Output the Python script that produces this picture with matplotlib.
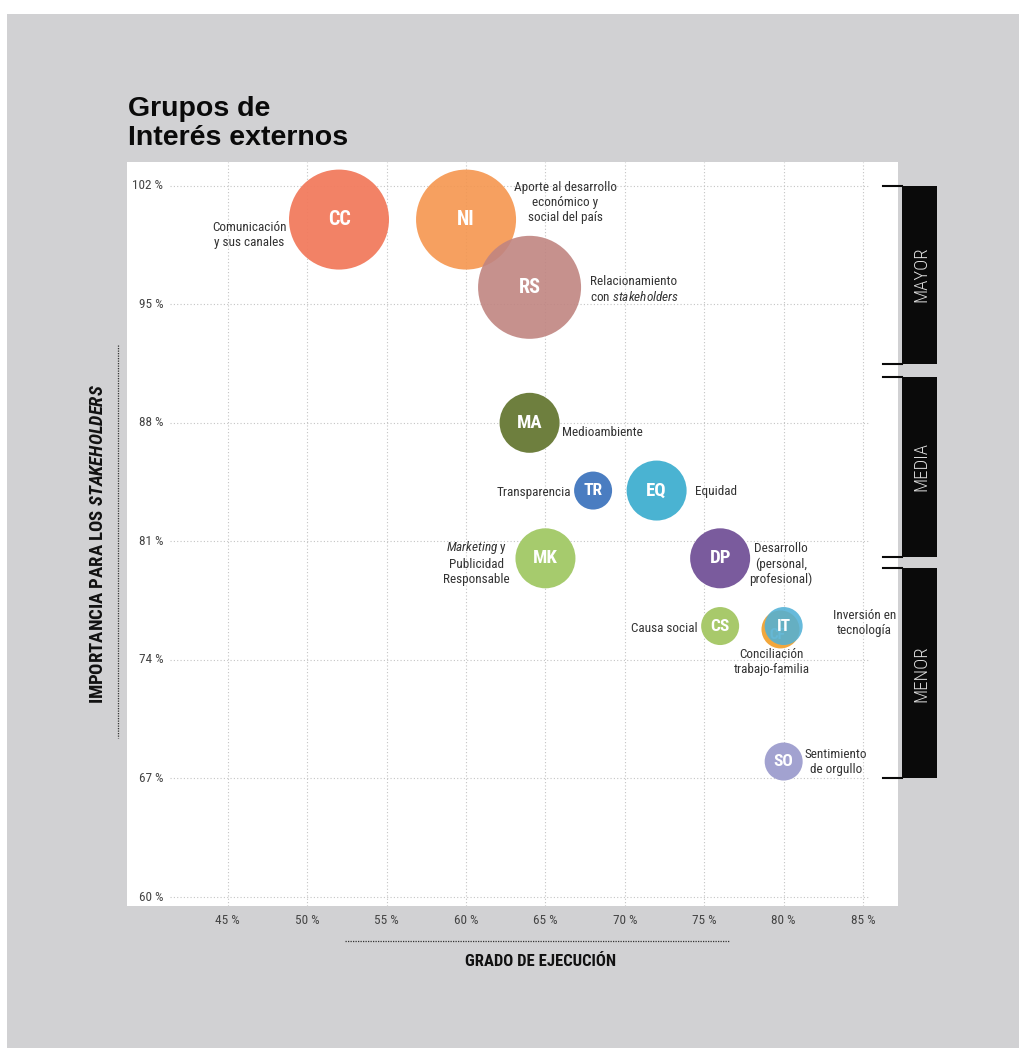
import numpy as np
import matplotlib.pyplot as plt
from matplotlib.patches import Rectangle
from matplotlib.lines import Line2D
from matplotlib.transforms import blended_transform_factory

plt.rcParams['font.family'] = ['Roboto Condensed', 'DejaVu Sans']
plt.rcParams['mathtext.fontset'] = 'custom'
plt.rcParams['mathtext.rm'] = 'Roboto Condensed'
plt.rcParams['mathtext.it'] = 'Roboto Condensed:italic'
plt.rcParams['mathtext.sf'] = 'Roboto Condensed:italic:bold'

# ---- data ----
codigos = ['CC', 'NI', 'RS', 'MA', 'TR', 'EQ', 'MK', 'DP', 'CS', 'CF', 'IT', 'SO']
ejecucion = [52, 60, 64, 64, 68, 72, 65, 76, 76, 79.8, 80, 80]
importancia = [100, 100, 96, 88, 84, 84, 80, 80, 76, 75.8, 76, 68]
tamano = [10, 10, 10.3, 6, 3.8, 6, 6, 6, 3.8, 3.8, 3.8, 3.8]
colores = ['#f27b5e', '#f5964f', '#c08581', '#6e7f3e', '#4a7dc1', '#4ab3d2',
           '#a6cb6d', '#7a5b9d', '#a8c96b', '#f2a73c', '#52b1d6', '#a2a2d0']
etiquetas = ['Comunicación\ny sus canales',
             'Aporte al desarrollo\neconómico y\nsocial del país',
             'Relacionamiento\ncon $\\mathit{stakeholders}$',
             'Medioambiente',
             'Transparencia',
             'Equidad',
             '$\\mathit{Marketing}$ y\nPublicidad\nResponsable',
             'Desarrollo\n(personal,\nprofesional)',
             'Causa social',
             'Conciliación\ntrabajo-familia',
             'Inversión en\ntecnología',
             'Sentimiento\nde orgullo']
# label offsets in pixels (dx, dy down) and alignment
offsets = [(-90, 15, 'center'), (99, -17, 'center'), (60, 2, 'left'), (32, 10, 'left'),
           (-22, 2, 'right'), (38, 1, 'left'), (-69, 4, 'center'), (61, 6, 'center'),
           (-23, 2, 'right'), (-9, 33, 'center'), (81, -3, 'center'), (52, 0, 'center')]

xticks = [45, 50, 55, 60, 65, 70, 75, 80, 85]
yticks = [60, 67, 74, 81, 88, 95, 102]
niveles = ['MAYOR', 'MEDIA', 'MENOR']
nivel_rango = [(102, 91.5), (90.7, 80.1), (79.4, 67)]

W, H = 1019, 1048
fig = plt.figure(figsize=(W / 100, H / 100), dpi=100)
fig.patch.set_facecolor('white')
fig.add_artist(Rectangle((7 / W, 0), 1 - 7 / W, 1 - 14 / H, transform=fig.transFigure,
                         facecolor='#d1d1d3', edgecolor='none', zorder=-10))

ax = fig.add_axes([127 / W, 1 - 906 / H, 771 / W, 744 / H])
ax.set_facecolor('white')
ax.set_xlim(38.65, 87.2)
ax.set_ylim(59.47, 103.4)
for s in ax.spines.values():
    s.set_visible(False)

# grid
for x in xticks:
    ax.axvline(x, color='#c4c4c4', lw=0.8, ls=(0, (1, 2)), zorder=1)
for y in yticks:
    ax.axhline(y, xmin=0.056, xmax=0.964, color='#c4c4c4', lw=0.8, ls=(0, (1, 2)), zorder=1)

ax.set_xticks(xticks)
ax.set_xticklabels([f'{x} %' for x in xticks], fontsize=9.5, color='#444444')
ax.set_yticks([])
ax.tick_params(axis='x', length=0, pad=6)
ytr = blended_transform_factory(ax.transAxes, ax.transData)
for y in yticks:
    ax.text(0.047, y, f'{y} %', transform=ytr, ha='right', va='center',
            fontsize=9.5, color='#444444')

# bubbles
diam = np.array(tamano) * 10 * 0.72
alphas = [0.95, 0.9, 0.9, 1, 1, 1, 1, 1, 1, 1, 0.88, 1]
for i, c in enumerate(codigos):
    ax.scatter(ejecucion[i], importancia[i], s=diam[i] ** 2, color=colores[i],
               alpha=alphas[i], edgecolors='none', zorder=3 + i * 0.01)
    fs = 14.5 if tamano[i] > 8 else (13.5 if tamano[i] > 5 else 12.5)
    if c == 'CF':
        ax.text(ejecucion[i] - 0.2, importancia[i] - 0.3, c, ha='center', va='center',
                color='#f3ead2', fontsize=11, fontweight='bold', zorder=3 + i * 0.01 + 0.005)
    else:
        ax.text(ejecucion[i], importancia[i], c, ha='center', va='center', color='white',
                fontsize=fs, fontweight='bold', zorder=3 + i * 0.01 + 0.005)
    dx, dy, ha = offsets[i]
    ax.annotate(etiquetas[i], (ejecucion[i], importancia[i]), xytext=(dx, -dy),
                textcoords='offset pixels', ha=ha, va='center', multialignment=ha,
                fontsize=9.5, color='#333333', zorder=5, linespacing=1.2)

# level bars on the right
btr = blended_transform_factory(fig.transFigure, ax.transData)
for nombre, (top, bot) in zip(niveles, nivel_rango):
    fig.add_artist(Rectangle((902 / W, bot), 35 / W, top - bot, transform=btr,
                             facecolor='#0a0a0a', edgecolor='none', clip_on=False))
    for yy in (top, bot):
        fig.add_artist(Line2D([883 / W, 902 / W], [yy, yy], transform=btr, color='#0a0a0a', lw=1.5))
    fig.text(921 / W, (top + bot) / 2, nombre, transform=btr, rotation=90, ha='center',
             va='center', color='#dcdcdc', fontsize=13.5, fontweight='light')

# axis labels
fig.text(541 / W, 1 - 962 / H, 'GRADO DE EJECUCIÓN', ha='center', va='center',
         fontsize=12, fontweight='bold', color='#111111')
fig.add_artist(Line2D([345 / W, 730 / W], [1 - 941 / H] * 2, transform=fig.transFigure,
                      color='#333333', lw=0.9, ls=(0, (1, 1))))
fig.text(98 / W, 1 - 544 / H, 'IMPORTANCIA PARA LOS $\\mathsf{STAKEHOLDERS}$', rotation=90,
         ha='center', va='center', fontsize=13.5, fontweight='bold', color='#111111')
fig.add_artist(Line2D([118 / W] * 2, [1 - 345 / H, 1 - 738 / H], transform=fig.transFigure,
                      color='#333333', lw=0.9, ls=(0, (1, 1))))

# title
fig.text(128 / W, 1 - 96 / H, 'Grupos de\nInterés externos', ha='left', va='top',
         fontsize=20.5, fontweight='bold', family=['Liberation Sans', 'DejaVu Sans'],
         linespacing=1.15, color='#0a0a0a')

fig.savefig('out.png', dpi=100)
